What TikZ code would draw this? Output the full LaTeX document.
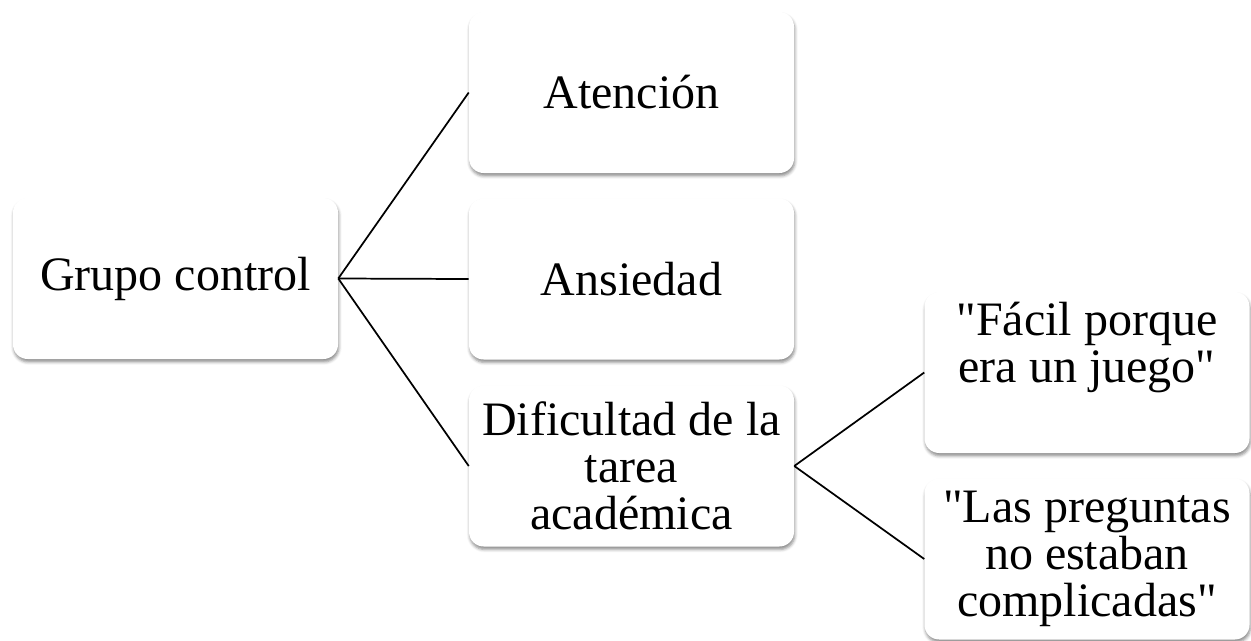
\documentclass[tikz,border=0pt]{standalone}
\usepackage{fontspec}
\setmainfont{Liberation Serif}[Ligatures=TeXOff]
\usepackage{tikz}
\usetikzlibrary{shadows.blur}
\usetikzlibrary{shapes}

\tikzset{
  smartbox/.style={rounded corners=11pt, fill=white, inner sep=0.75pt,
    minimum width=243.75pt, minimum height=120.75pt, align=center,
    font=\fontsize{36}{35.3}\selectfont,
    blur shadow={shadow xshift=0.6pt, shadow yshift=-2.2pt, shadow blur radius=2.2pt, shadow opacity=45}},
  branch/.style={line width=1.3pt}
}

\begin{document}
\begin{tikzpicture}[x=0.75pt,y=0.75pt,yscale=-1,xscale=1]
\useasboundingbox (0,0) rectangle (1251,640);

%Shape: Rounded Rect [id:grupo]
\node [smartbox] (grupo) at (175.5,278.5) {Grupo control};
%Shape: Rounded Rect [id:atencion]
\node [smartbox] (atencion) at (631.5,92.5) {Atención};
%Shape: Rounded Rect [id:ansiedad]
\node [smartbox] (ansiedad) at (631.5,279) {Ansiedad};
%Shape: Rounded Rect [id:dificultad]
\node [smartbox] (dificultad) at (631.5,466) {Dificultad de la\\tarea\\académica};
%Shape: Rounded Rect [id:facil]
\node [smartbox] (facil) at (1087,372.5) {"Fácil porque\\era un juego"\\\strut};
%Shape: Rounded Rect [id:preguntas]
\node [smartbox] (preguntas) at (1087,559) {"Las preguntas\\no estaban\\complicadas"};

%Straight Lines
\draw [branch] (grupo.east) -- (atencion.west) ;
\draw [branch] (grupo.east) -- (ansiedad.west) ;
\draw [branch] (grupo.east) -- (dificultad.west) ;
\draw [branch] (dificultad.east) -- (facil.west) ;
\draw [branch] (dificultad.east) -- (preguntas.west) ;

\end{tikzpicture}
\end{document}
